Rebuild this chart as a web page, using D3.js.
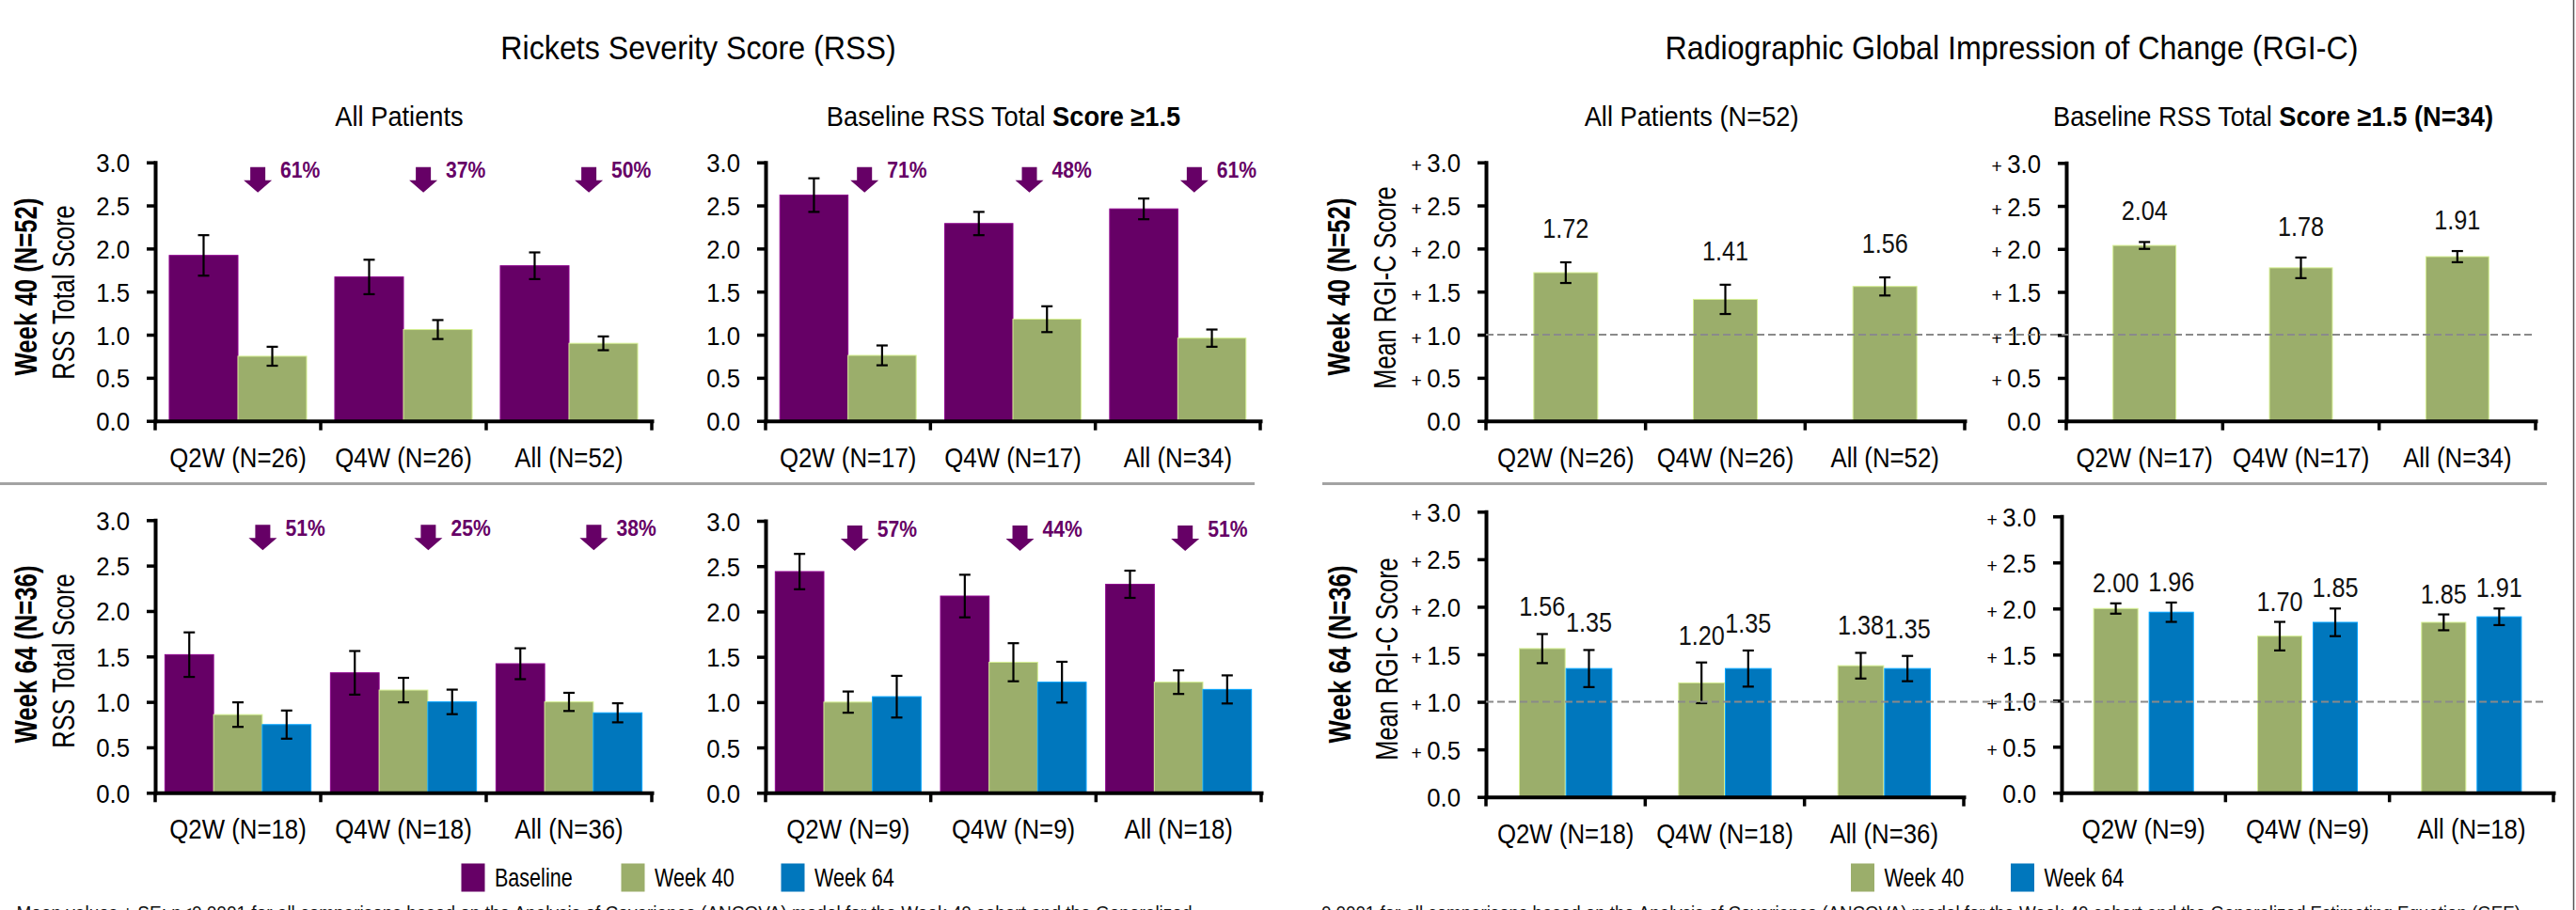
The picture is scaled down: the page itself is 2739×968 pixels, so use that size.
<!DOCTYPE html>
<html>
<head>
<meta charset="utf-8">
<script src="https://cdn.jsdelivr.net/npm/d3@7"></script>
<style>
  html, body { margin: 0; padding: 0; background: #fff; }
  svg { display: block; }
</style>
</head>
<body>
<svg id="chart" width="2739" height="968"></svg>
<script>
// ---------------- data ----------------
const catsW40All = ["Q2W (N=26)", "Q4W (N=26)", "All (N=52)"];
const catsW40Sev = ["Q2W (N=17)", "Q4W (N=17)", "All (N=34)"];
const catsW64All = ["Q2W (N=18)", "Q4W (N=18)", "All (N=36)"];
const catsW64Sev = ["Q2W (N=9)", "Q4W (N=9)", "All (N=18)"];

const seriesNames  = ["Baseline", "Week 40", "Week 64"];
const seriesColors = ["#660066", "#9BAE6B", "#0077BD"];

const yTicks = [0, 0.5, 1.0, 1.5, 2.0, 2.5, 3.0];

// RSS total score, Week 40 cohort, all patients
const rssW40AllBaseline   = [1.92, 1.67, 1.80];
const rssW40AllBaselineSE = [0.235, 0.20, 0.155];
const rssW40AllWeek40     = [0.75, 1.06, 0.90];
const rssW40AllWeek40SE   = [0.11, 0.11, 0.08];
const rssW40AllReduction  = ["61%", "37%", "50%"];

// RSS total score, Week 40 cohort, baseline RSS >= 1.5
const rssW40SevBaseline   = [2.62, 2.29, 2.46];
const rssW40SevBaselineSE = [0.195, 0.135, 0.12];
const rssW40SevWeek40     = [0.76, 1.18, 0.96];
const rssW40SevWeek40SE   = [0.115, 0.15, 0.10];
const rssW40SevReduction  = ["71%", "48%", "61%"];

// RSS total score, Week 64 cohort, all patients
const rssW64AllBaseline   = [1.52, 1.32, 1.42];
const rssW64AllBaselineSE = [0.245, 0.24, 0.17];
const rssW64AllWeek40     = [0.86, 1.13, 1.00];
const rssW64AllWeek40SE   = [0.135, 0.135, 0.10];
const rssW64AllWeek64     = [0.75, 1.00, 0.88];
const rssW64AllWeek64SE   = [0.155, 0.135, 0.105];
const rssW64AllReduction  = ["51%", "25%", "38%"];

// RSS total score, Week 64 cohort, baseline RSS >= 1.5
const rssW64SevBaseline   = [2.44, 2.17, 2.30];
const rssW64SevBaselineSE = [0.195, 0.235, 0.15];
const rssW64SevWeek40     = [1.00, 1.44, 1.22];
const rssW64SevWeek40SE   = [0.117, 0.21, 0.13];
const rssW64SevWeek64     = [1.06, 1.22, 1.14];
const rssW64SevWeek64SE   = [0.23, 0.225, 0.155];
const rssW64SevReduction  = ["57%", "44%", "51%"];

// RGI-C score, Week 40 cohort
const rgiW40AllWeek40   = [1.72, 1.41, 1.56];
const rgiW40AllWeek40SE = [0.12, 0.17, 0.105];
const rgiW40SevWeek40   = [2.04, 1.78, 1.91];
const rgiW40SevWeek40SE = [0.04, 0.12, 0.065];

// RGI-C score, Week 64 cohort
const rgiW64AllWeek40   = [1.56, 1.20, 1.38];
const rgiW64AllWeek40SE = [0.153, 0.214, 0.135];
const rgiW64AllWeek64   = [1.35, 1.35, 1.35];
const rgiW64AllWeek64SE = [0.195, 0.19, 0.133];
const rgiW64SevWeek40   = [2.00, 1.70, 1.85];
const rgiW64SevWeek40SE = [0.056, 0.155, 0.086];
const rgiW64SevWeek64   = [1.96, 1.85, 1.91];
const rgiW64SevWeek64SE = [0.105, 0.15, 0.09];

// ---------------- layout ----------------
const FONT = '"Liberation Sans", Arial, Helvetica, sans-serif';
const svg = d3.select("#chart").attr("font-family", FONT);

const panels = [
  { cats: catsW40All, series: [
      { s: 0, v: rssW40AllBaseline, se: rssW40AllBaselineSE },
      { s: 1, v: rssW40AllWeek40,   se: rssW40AllWeek40SE } ],
    reduction: rssW40AllReduction,
    x0: 165, x1: 693, yTop: 172.7, yBot: 447.7, padInner: 0, padOuter: 0.205, arrowFrac: 0.62,
    subtitle: [["All Patients", false]], subX: 424.5 },
  { cats: catsW40Sev, series: [
      { s: 0, v: rssW40SevBaseline, se: rssW40SevBaselineSE },
      { s: 1, v: rssW40SevWeek40,   se: rssW40SevWeek40SE } ],
    reduction: rssW40SevReduction,
    x0: 814, x1: 1340, yTop: 172.7, yBot: 447.7, padInner: 0, padOuter: 0.21, arrowFrac: 0.6,
    subtitle: [["Baseline RSS Total ", false], ["Score \u22651.5", true]], subX: 1067 },
  { cats: catsW40All, series: [
      { s: 1, v: rgiW40AllWeek40, se: rgiW40AllWeek40SE } ],
    plus: true, labelGap: 26,
    x0: 1580, x1: 2089, yTop: 172.7, yBot: 447.7, padInner: 0, padOuter: 0.748,
    subtitle: [["All Patients (N=52)", false]], subX: 1798.6 },
  { cats: catsW40Sev, series: [
      { s: 1, v: rgiW40SevWeek40, se: rgiW40SevWeek40SE } ],
    plus: true, labelGap: 23,
    x0: 2197, x1: 2696, yTop: 173.3, yBot: 447.7, padInner: 0, padOuter: 0.743,
    subtitle: [["Baseline RSS Total ", false], ["Score \u22651.5 (N=34)", true]], subX: 2417 },
  { cats: catsW64All, series: [
      { s: 0, v: rssW64AllBaseline, se: rssW64AllBaselineSE },
      { s: 1, v: rssW64AllWeek40,   se: rssW64AllWeek40SE },
      { s: 2, v: rssW64AllWeek64,   se: rssW64AllWeek64SE } ],
    reduction: rssW64AllReduction,
    x0: 165, x1: 693, yTop: 553.3, yBot: 843.3, padInner: 0, padOuter: 0.2, arrowFrac: 0.65 },
  { cats: catsW64Sev, series: [
      { s: 0, v: rssW64SevBaseline, se: rssW64SevBaselineSE },
      { s: 1, v: rssW64SevWeek40,   se: rssW64SevWeek40SE },
      { s: 2, v: rssW64SevWeek64,   se: rssW64SevWeek64SE } ],
    reduction: rssW64SevReduction,
    x0: 814, x1: 1341, yTop: 554, yBot: 843.3, padInner: 0, padOuter: 0.2, arrowFrac: 0.54 },
  { cats: catsW64All, series: [
      { s: 1, v: rgiW64AllWeek40, se: rgiW64AllWeek40SE },
      { s: 2, v: rgiW64AllWeek64, se: rgiW64AllWeek64SE } ],
    plus: true, labelGap: 19,
    x0: 1580, x1: 2088, yTop: 544.3, yBot: 847.7, padInner: 0.02, padOuter: 0.715 },
  { cats: catsW64Sev, series: [
      { s: 1, v: rgiW64SevWeek40, se: rgiW64SevWeek40SE },
      { s: 2, v: rgiW64SevWeek64, se: rgiW64SevWeek64SE } ],
    plus: true, labelGap: 12,
    x0: 2192, x1: 2715, yTop: 549.3, yBot: 843.3, padInner: 0.203, padOuter: 0.578 }
];

// text helper: narrow type is produced by a horizontal scale
function label(parent, x, y, str, size, sx, opts = {}) {
  const rot = opts.rotate ? " rotate(-90)" : "";
  const t = parent.append("text")
    .attr("transform", `translate(${x},${y})${rot} scale(${sx},1)`)
    .attr("font-size", size)
    .attr("text-anchor", opts.anchor || "middle")
    .attr("font-weight", opts.weight || "normal")
    .attr("fill", opts.fill || "#000");
  if (str != null) t.text(str);
  return t;
}

const fmt1 = d3.format(".1f");
const fmt2 = d3.format(".2f");

function drawPanel(p) {
  const g = svg.append("g");
  const x = d3.scaleBand().domain(p.cats).range([p.x0, p.x1]).padding(0);
  const xi = d3.scaleBand().domain(p.series.map(s => s.s))
    .range([0, x.bandwidth()]).paddingInner(p.padInner).paddingOuter(p.padOuter);
  const y = d3.scaleLinear().domain([0, 3]).range([p.yBot, p.yTop]);
  p.xScale = x; p.yScale = y;

  const rows = [];
  p.series.forEach(ser => ser.v.forEach((v, i) =>
    rows.push({ s: ser.s, v, se: ser.se[i], cat: p.cats[i] })));

  // bars
  g.append("g").selectAll("rect").data(rows).join("rect")
    .attr("x", d => x(d.cat) + xi(d.s))
    .attr("width", xi.bandwidth())
    .attr("y", d => y(d.v))
    .attr("height", d => y(0) - y(d.v))
    .attr("fill", d => seriesColors[d.s])
    .attr("stroke", d => d3.color(seriesColors[d.s]).brighter(0.9))
    .attr("stroke-width", 1);

  p.rows = rows; p.xi = xi; p.g = g;
}

function drawPanelOverlay(p) {
  const g = p.g, x = p.xScale, y = p.yScale, xi = p.xi;
  const cx = d => x(d.cat) + xi(d.s) + xi.bandwidth() / 2;

  // error bars (mean +/- SE)
  const eb = g.append("g").attr("stroke", "#000").attr("stroke-width", 2.2);
  eb.selectAll("line.v").data(p.rows).join("line").attr("class", "v")
    .attr("x1", cx).attr("x2", cx)
    .attr("y1", d => y(d.v + d.se)).attr("y2", d => y(d.v - d.se));
  eb.selectAll("line.t").data(p.rows).join("line").attr("class", "t")
    .attr("x1", d => cx(d) - 6).attr("x2", d => cx(d) + 6)
    .attr("y1", d => y(d.v + d.se)).attr("y2", d => y(d.v + d.se));
  eb.selectAll("line.b").data(p.rows).join("line").attr("class", "b")
    .attr("x1", d => cx(d) - 6).attr("x2", d => cx(d) + 6)
    .attr("y1", d => y(d.v - d.se)).attr("y2", d => y(d.v - d.se));

  // value labels above RGI-C bars
  if (p.labelGap != null) {
    p.rows.forEach(d => {
      label(g, cx(d), y(d.v + d.se) - p.labelGap, fmt2(d.v), 29, 0.87, { fill: "#111" });
    });
  }

  // reduction arrows
  if (p.reduction) {
    p.cats.forEach((c, i) => {
      const ax = x(c) + p.arrowFrac * x.bandwidth();
      const ty = p.yTop + 5;
      const pts = [[ax - 8, ty], [ax + 8, ty], [ax + 8, ty + 14], [ax + 15, ty + 14],
                   [ax, ty + 27], [ax - 15, ty + 14], [ax - 8, ty + 14]];
      g.append("path").attr("d", d3.line()(pts) + "Z").attr("fill", seriesColors[0]);
      label(g, ax + 24, p.yTop + 16.5, p.reduction[i], 24, 0.88,
        { anchor: "start", weight: "bold", fill: seriesColors[0] });
    });
  }

  // y axis
  const ya = g.append("g").attr("transform", `translate(${p.x0},0)`)
    .call(d3.axisLeft(y).tickValues(yTicks).tickSize(9).tickSizeOuter(0).tickFormat(fmt1))
    .attr("font-family", FONT);
  ya.select(".domain").attr("stroke", "#000").attr("stroke-width", 4).attr("stroke-linecap", "square");
  ya.selectAll(".tick line").attr("stroke", "#000").attr("stroke-width", 3.5);
  ya.selectAll(".tick text").each(function (d) {
    const t = d3.select(this);
    const s = t.text();
    t.attr("x", null).attr("dy", null).attr("font-size", 28).attr("fill", "#000")
      .attr("transform", "translate(-27,10) scale(0.92,1)");
    if (p.plus && d > 0) {
      t.text(null);
      t.append("tspan").attr("font-size", 21).attr("fill", "#000").text("+");
      t.append("tspan").attr("dx", 6).text(s);
    }
  });

  // x axis
  const xa = g.append("g").attr("transform", `translate(0,${y(0)})`)
    .call(d3.axisBottom(x).tickSize(0).tickSizeOuter(0))
    .attr("font-family", FONT);
  xa.select(".domain").attr("stroke", "#000").attr("stroke-width", 4).attr("stroke-linecap", "square");
  xa.selectAll(".tick text")
    .attr("y", null).attr("dy", null).attr("font-size", 30).attr("fill", "#000")
    .attr("transform", "translate(0,49) scale(0.86,1)");
  const bounds = [x.range()[0]].concat(p.cats.map(c => x(c) + x.bandwidth()));
  xa.selectAll("line.bound").data(bounds).join("line").attr("class", "bound")
    .attr("x1", d => d).attr("x2", d => d).attr("y1", 0).attr("y2", 10)
    .attr("stroke", "#000").attr("stroke-width", 3.5);

  // subtitle
  if (p.subtitle) {
    const t = label(svg, p.subX, 134.3, null, 29, 0.94);
    p.subtitle.forEach(([str, bold]) =>
      t.append("tspan").attr("font-weight", bold ? "bold" : "normal").text(str));
  }
}

panels.forEach(drawPanel);

// reference line at +1.0 on the RGI-C panels
const refTop = panels[2], refBot = panels[6];
svg.append("line")
  .attr("x1", refTop.x0).attr("x2", 2694)
  .attr("y1", refTop.yScale(1)).attr("y2", refTop.yScale(1))
  .attr("stroke", "#8a8a8a").attr("stroke-width", 2).attr("stroke-dasharray", "8,4");
svg.append("line")
  .attr("x1", refBot.x0).attr("x2", 2708)
  .attr("y1", refBot.yScale(1)).attr("y2", refBot.yScale(1))
  .attr("stroke", "#8a8a8a").attr("stroke-width", 2).attr("stroke-dasharray", "8,4");

panels.forEach(drawPanelOverlay);

// section titles
label(svg, 742.5, 63.3, "Rickets Severity Score (RSS)", 35, 0.92);
label(svg, 2139, 63.3, "Radiographic Global Impression of Change (RGI-C)", 35, 0.92);

// row labels
const rowLabels = [
  { xb: 38.5, xr: 79, yb: 305, yr: 311, cohort: "Week 40 (N=52)", measure: "RSS Total Score" },
  { xb: 38.5, xr: 79, yb: 696, yr: 703, cohort: "Week 64 (N=36)", measure: "RSS Total Score" },
  { xb: 1435, xr: 1484, yb: 305, yr: 306, cohort: "Week 40 (N=52)", measure: "Mean RGI-C Score" },
  { xb: 1436, xr: 1486, yb: 696, yr: 701, cohort: "Week 64 (N=36)", measure: "Mean RGI-C Score" }
];
rowLabels.forEach(r => {
  label(svg, r.xb, r.yb, r.cohort, 33, 0.78, { rotate: true, weight: "bold" });
  label(svg, r.xr, r.yr, r.measure, 34, 0.745, { rotate: true });
});

// row separators and right border
svg.append("line").attr("x1", 0).attr("x2", 1334).attr("y1", 514.5).attr("y2", 514.5)
  .attr("stroke", "#a3a3a3").attr("stroke-width", 3);
svg.append("line").attr("x1", 1406).attr("x2", 2708).attr("y1", 514.5).attr("y2", 514.5)
  .attr("stroke", "#a3a3a3").attr("stroke-width", 3);
svg.append("line").attr("x1", 2736.5).attr("x2", 2736.5).attr("y1", 0).attr("y2", 968)
  .attr("stroke", "#555").attr("stroke-width", 1.5);

// legends
function legend(x0, entries, spacing) {
  entries.forEach((s, i) => {
    const lx = x0 + i * spacing;
    svg.append("rect").attr("x", lx).attr("y", 918.5).attr("width", 25).attr("height", 30)
      .attr("fill", seriesColors[s]);
    label(svg, lx + 35.5, 943.3, seriesNames[s], 28, 0.77, { anchor: "start" });
  });
}
legend(490.5, [0, 1, 2], 170);
legend(1968, [1, 2], 170);

// footnotes (the page ends part-way through this line)
svg.append("text").attr("x", 17.5).attr("y", 977.5).attr("font-size", 20).attr("fill", "#111")
  .attr("textLength", 1250).attr("lengthAdjust", "spacingAndGlyphs")
  .text("Mean values \u00b1 SE; p<0.0001 for all comparisons based on the Analysis of Covariance (ANCOVA) model for the Week 40 cohort and the Generalized");
svg.append("text").attr("x", 1405).attr("y", 977.5).attr("font-size", 20).attr("fill", "#111")
  .attr("textLength", 1275).attr("lengthAdjust", "spacingAndGlyphs")
  .text("0.0001 for all comparisons based on the Analysis of Covariance (ANCOVA) model for the Week 40 cohort and the Generalized Estimating Equation (GEE)");
</script>
</body>
</html>
